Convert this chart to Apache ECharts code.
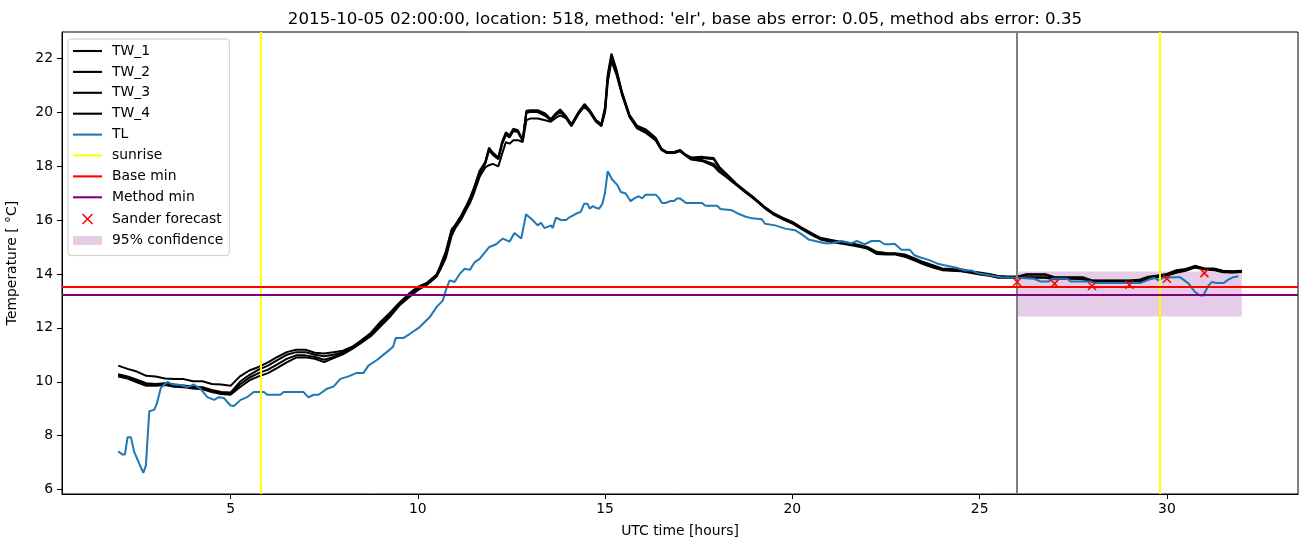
<!DOCTYPE html>
<html>
<head>
<meta charset="utf-8">
<script src="https://cdn.jsdelivr.net/npm/echarts@6/dist/echarts.min.js"></script>
<style>
html,body{margin:0;padding:0;background:#fff;}
#chart{width:1311px;height:547px;}
</style>
</head>
<body>
<div id="chart"></div>
<script>
// ---- data ----
const titleText = "2015-10-05 02:00:00, location: 518, method: 'elr', base abs error: 0.05, method abs error: 0.35";
const xTicks = [5, 10, 15, 20, 25, 30];
const yTicks = [6, 8, 10, 12, 14, 16, 18, 20, 22];

const twTime = [2,2.25,2.5,2.75,3,3.25,3.5,3.75,4,4.25,
  4.5,4.75,5,5.25,5.5,5.75,6,6.25,6.5,6.75,
  7,7.25,7.5,7.75,8,8.25,8.5,8.75,9,9.25,
  9.5,9.75,10,10.25,10.5,10.6,10.75,10.9,11,11.15,
  11.3,11.4,11.5,11.65,11.8,11.9,12,12.15,12.25,12.35,
  12.45,12.55,12.67,12.8,12.9,13,13.2,13.4,13.55,13.7,
  13.8,13.95,14.1,14.3,14.45,14.6,14.75,14.9,15,15.07,
  15.17,15.3,15.45,15.65,15.85,16.1,16.35,16.5,16.65,16.85,
  17,17.15,17.3,17.6,17.9,18.05,18.25,18.5,18.75,19,
  19.25,19.5,19.75,20,20.25,20.5,20.75,21,21.25,21.5,
  21.75,22,22.25,22.5,22.75,23,23.25,23.5,23.75,24,
  24.25,24.5,24.75,25,25.25,25.5,25.75,26,26.25,26.5,
  26.75,27,27.25,27.5,27.75,28,28.5,29,29.25,29.5,
  29.75,30,30.25,30.5,30.75,31,31.25,31.5,31.75,32];

const tw1 = [10.6,10.48,10.38,10.22,10.2,10.12,10.1,10.1,10.02,10.02,
  9.92,9.9,9.85,10.2,10.42,10.55,10.72,10.92,11.1,11.19,
  11.19,11.08,11.05,11.1,11.15,11.3,11.55,11.82,12.22,12.55,
  12.92,13.25,13.52,13.68,13.98,14.3,14.85,15.65,15.82,16.15,
  16.55,16.85,17.2,17.82,18.15,18.68,18.5,18.32,18.9,19.25,
  19.14,19.38,19.33,18.98,20.05,20.07,20.07,19.95,19.74,19.98,
  20.1,19.86,19.55,20.02,20.3,20.05,19.72,19.55,20.2,21.4,
  22.17,21.6,20.75,19.9,19.5,19.35,19.05,18.65,18.52,18.52,
  18.6,18.42,18.32,18.34,18.3,17.97,17.7,17.35,17.07,16.8,
  16.5,16.25,16.08,15.93,15.72,15.52,15.34,15.27,15.2,15.15,
  15.08,15.0,14.82,14.78,14.77,14.72,14.58,14.44,14.32,14.2,
  14.18,14.17,14.1,14.05,14.0,13.92,13.9,13.9,13.99,13.99,
  13.99,13.88,13.88,13.88,13.88,13.76,13.76,13.76,13.78,13.9,
  13.94,14.0,14.14,14.18,14.3,14.2,14.2,14.12,14.1,14.12];

const tw2 = [10.28,10.2,10.08,9.95,9.92,9.95,9.9,9.86,9.82,9.8,
  9.7,9.62,9.6,10.0,10.25,10.45,10.6,10.8,11.0,11.1,
  11.1,11.0,10.95,11.0,11.1,11.27,11.52,11.78,12.16,12.5,
  12.88,13.2,13.48,13.66,13.95,14.25,14.78,15.58,15.78,16.1,
  16.5,16.8,17.15,17.78,18.12,18.62,18.45,18.28,18.85,19.2,
  19.1,19.34,19.3,18.95,20.02,20.04,20.03,19.9,19.72,19.94,
  20.06,19.84,19.53,20.0,20.27,20.03,19.7,19.53,20.12,21.3,
  22.08,21.55,20.72,19.88,19.47,19.3,19.02,18.63,18.51,18.51,
  18.58,18.41,18.3,18.3,18.25,17.93,17.67,17.33,17.05,16.78,
  16.48,16.23,16.06,15.91,15.7,15.5,15.32,15.25,15.18,15.12,
  15.06,14.98,14.8,14.76,14.75,14.69,14.55,14.41,14.29,14.18,
  14.16,14.14,14.08,14.02,13.98,13.9,13.88,13.88,13.97,13.97,
  13.97,13.86,13.86,13.86,13.85,13.75,13.75,13.75,13.76,13.87,
  13.92,13.98,14.1,14.16,14.28,14.19,14.18,14.1,14.08,14.1];

const tw3 = [10.24,10.15,10.02,9.9,9.88,9.9,9.86,9.83,9.78,9.76,
  9.66,9.58,9.56,9.9,10.15,10.32,10.45,10.65,10.85,10.98,
  10.98,10.92,10.82,10.92,11.05,11.25,11.48,11.74,12.1,12.45,
  12.85,13.16,13.44,13.63,13.93,14.2,14.7,15.5,15.75,16.05,
  16.45,16.72,17.08,17.7,18.08,18.58,18.42,18.25,18.8,19.15,
  19.06,19.3,19.26,18.93,19.98,20.0,20.0,19.86,19.7,19.9,
  20.0,19.82,19.5,19.98,20.24,20.0,19.68,19.5,20.06,21.2,
  22.0,21.48,20.68,19.85,19.43,19.26,18.98,18.62,18.5,18.5,
  18.57,18.4,18.27,18.22,18.08,17.83,17.62,17.32,17.04,16.77,
  16.47,16.22,16.04,15.89,15.68,15.48,15.3,15.22,15.16,15.1,
  15.04,14.96,14.77,14.74,14.74,14.66,14.52,14.38,14.26,14.16,
  14.14,14.12,14.06,14.0,13.95,13.88,13.87,13.87,13.88,13.88,
  13.88,13.82,13.84,13.84,13.82,13.73,13.73,13.73,13.74,13.83,
  13.9,13.96,14.07,14.14,14.26,14.18,14.16,14.08,14.06,14.08];

const tw4 = [10.2,10.12,9.98,9.85,9.85,9.88,9.82,9.8,9.75,9.72,
  9.62,9.55,9.52,9.8,10.05,10.2,10.32,10.52,10.72,10.9,
  10.91,10.85,10.73,10.88,11.02,11.22,11.45,11.7,12.05,12.4,
  12.82,13.12,13.4,13.6,13.9,14.15,14.6,15.4,15.7,16.0,
  16.4,16.65,17.0,17.6,17.95,18.03,18.08,17.99,18.45,18.88,
  18.83,18.96,18.96,18.89,19.7,19.76,19.76,19.7,19.64,19.8,
  19.88,19.78,19.48,19.95,20.2,19.98,19.65,19.48,20.0,21.1,
  21.9,21.4,20.65,19.82,19.4,19.22,18.95,18.6,18.48,18.48,
  18.55,18.38,18.24,18.18,18.0,17.78,17.58,17.3,17.02,16.75,
  16.45,16.2,16.02,15.87,15.66,15.46,15.28,15.2,15.14,15.08,
  15.02,14.94,14.74,14.72,14.72,14.64,14.5,14.36,14.24,14.14,
  14.12,14.1,14.04,13.98,13.93,13.86,13.86,13.86,13.86,13.86,
  13.86,13.8,13.82,13.82,13.8,13.72,13.72,13.72,13.72,13.8,
  13.88,13.94,14.04,14.12,14.24,14.16,14.14,14.06,14.05,14.07];

const tlTime = [2.0,2.12,2.18,2.25,2.34,2.43,2.67,2.74,2.83,2.96,
  3.03,3.14,3.32,3.45,3.67,3.85,4.02,4.2,4.38,4.56,
  4.69,4.82,5.0,5.09,5.27,5.44,5.62,5.89,5.98,6.33,
  6.42,6.95,7.08,7.22,7.35,7.57,7.75,7.93,8.15,8.37,
  8.55,8.68,8.9,9.17,9.34,9.41,9.61,9.79,10.05,10.32,
  10.5,10.67,10.76,10.85,10.98,11.12,11.25,11.39,11.52,11.65,
  11.91,12.09,12.27,12.45,12.58,12.76,12.89,13.07,13.2,13.29,
  13.38,13.56,13.6,13.69,13.82,13.96,14.04,14.22,14.35,14.44,
  14.53,14.59,14.68,14.75,14.84,14.93,15.0,15.07,15.19,15.33,
  15.42,15.55,15.68,15.78,15.9,15.99,16.08,16.35,16.43,16.52,
  16.61,16.74,16.84,16.92,17.0,17.16,17.59,17.68,17.99,18.08,
  18.39,18.56,18.74,18.92,19.18,19.27,19.54,19.81,20.07,20.25,
  20.43,20.87,21.05,21.31,21.58,21.72,21.93,22.11,22.33,22.46,
  22.6,22.73,22.91,23.13,23.26,23.44,23.62,23.88,24.06,24.41,
  24.59,24.77,24.95,25.3,25.57,26.01,26.45,26.63,26.85,26.94,
  27.34,27.43,27.96,28.05,29.29,29.47,29.65,29.78,29.91,30.18,
  30.35,30.58,30.75,30.89,30.97,31.11,31.2,31.33,31.51,31.64,
  31.77,31.91];

const tlTemp = [7.42,7.3,7.3,7.94,7.94,7.39,6.62,6.89,8.91,8.96,
  9.18,9.78,10.0,9.9,9.88,9.8,9.9,9.74,9.43,9.33,
  9.43,9.4,9.12,9.1,9.33,9.43,9.62,9.62,9.52,9.52,
  9.62,9.62,9.42,9.52,9.52,9.74,9.82,10.11,10.2,10.33,
  10.33,10.6,10.8,11.1,11.3,11.62,11.62,11.78,12.03,12.4,
  12.77,13.02,13.45,13.76,13.7,14.0,14.19,14.15,14.44,14.56,
  15.0,15.1,15.31,15.2,15.52,15.31,16.21,15.99,15.8,15.9,
  15.7,15.8,15.7,16.09,16.0,16.0,16.09,16.23,16.3,16.6,
  16.6,16.42,16.52,16.45,16.42,16.6,17.04,17.81,17.5,17.29,
  17.04,16.98,16.7,16.8,16.88,16.8,16.94,16.94,16.83,16.63,
  16.63,16.7,16.7,16.8,16.8,16.63,16.63,16.53,16.53,16.41,
  16.36,16.23,16.13,16.06,16.03,15.86,15.8,15.68,15.62,15.47,
  15.28,15.14,15.14,15.22,15.14,15.22,15.1,15.22,15.22,15.1,
  15.1,15.12,14.9,14.9,14.69,14.6,14.53,14.38,14.32,14.22,
  14.13,14.13,14.03,13.94,13.88,13.86,13.82,13.72,13.72,13.82,
  13.82,13.72,13.72,13.66,13.66,13.76,13.86,13.76,13.86,13.88,
  13.88,13.64,13.33,13.2,13.2,13.57,13.7,13.66,13.66,13.79,
  13.88,13.91];

const sunriseHours = [5.8, 29.8];
const forecastStart = 26;
const baseMin = 13.54;
const methodMin = 13.24;
const sanderTime = [26, 27, 28, 29, 30, 31];
const sanderTemp = [13.70, 13.64, 13.55, 13.60, 13.82, 14.03];
const bandStart = 26, bandEnd = 32;
const bandLow = 12.42, bandHigh = 14.09;

// ---- build ----
const zip = (xs, ys) => xs.map((x, i) => [x, ys[i]]);
const FONT = 'DejaVu Sans';
const FS = 13.9;
const xPath = 'path://M0,0L10,10M10,0L0,10';
const xLegendPath = 'path://M-2,-2M12,12M0,0L10,10M10,0L0,10';
const lineIcon = 'path://M0,0H29V2.1H0Z';
const LW = 2;

function lineSeries(name, xs, ys, color, z) {
  return {
    name, type: 'line', data: zip(xs, ys), symbol: 'none', showSymbol: false,
    lineStyle: { color, width: LW }, itemStyle: { color }, z: z || 2,
    animation: false, silent: true
  };
}
function refLine(name, color, lines, z) {
  return {
    name, type: 'line', data: [], symbol: 'none', z: z,
    itemStyle: { color }, lineStyle: { color, width: LW },
    markLine: {
      silent: true, symbol: 'none', label: { show: false }, animation: false,
      lineStyle: { color, type: 'solid', width: LW },
      data: lines
    }
  };
}

const chart = echarts.init(document.getElementById('chart'), null, { renderer: 'canvas' });
const option = {
  animation: false,
  backgroundColor: '#ffffff',
  textStyle: { fontFamily: FONT },
  title: {
    text: titleText, left: 680, top: 6, textAlign: 'center',
    textStyle: { fontFamily: FONT, fontSize: 16.67, fontWeight: 'normal', color: '#000' }
  },
  grid: { left: 62, right: 13, top: 32, bottom: 53, show: true, borderColor: '#000', borderWidth: 1,
          backgroundColor: 'transparent', containLabel: false, outerBoundsMode: 'none' },
  xAxis: {
    type: 'value', min: 0.5, max: 33.5,
    name: 'UTC time [hours]', nameLocation: 'middle', nameGap: 30,
    nameTextStyle: { fontFamily: FONT, fontSize: FS, color: '#000' },
    axisLine: { show: true, onZero: false, lineStyle: { color: '#000', width: 1 } },
    axisTick: { show: true, length: 5, customValues: xTicks, lineStyle: { color: '#000' } },
    axisLabel: { customValues: xTicks, margin: 8, fontFamily: FONT, fontSize: FS, color: '#000' },
    splitLine: { show: false }
  },
  yAxis: {
    type: 'value', min: 5.84, max: 22.97,
    name: 'Temperature [ \u00B0C]', nameLocation: 'middle', nameGap: 43, nameRotate: 90,
    nameTextStyle: { fontFamily: FONT, fontSize: FS, color: '#000' },
    axisLine: { show: true, onZero: false, lineStyle: { color: '#000', width: 1 } },
    axisTick: { show: true, length: 5, customValues: yTicks, lineStyle: { color: '#000' } },
    axisLabel: { customValues: yTicks, margin: 9, fontFamily: FONT, fontSize: FS, color: '#000' },
    splitLine: { show: false }
  },
  legend: {
    orient: 'vertical', left: 68, top: 39,
    backgroundColor: 'rgba(255,255,255,0.8)', borderColor: '#cccccc', borderWidth: 1, borderRadius: 3,
    padding: [5, 6, 8, 5],
    itemWidth: 29, itemHeight: 14, itemGap: 6.9,
    textStyle: { fontFamily: FONT, fontSize: FS, color: '#000', padding: [0, 0, 0, 5] },
    selectedMode: false,
    data: [
      { name: 'TW_1', icon: lineIcon }, { name: 'TW_2', icon: lineIcon },
      { name: 'TW_3', icon: lineIcon }, { name: 'TW_4', icon: lineIcon },
      { name: 'TL', icon: lineIcon }, { name: 'sunrise', icon: lineIcon },
      { name: 'Base min', icon: lineIcon }, { name: 'Method min', icon: lineIcon },
      { name: 'Sander forecast', icon: xLegendPath, itemStyle: { color: 'red', borderColor: 'red', borderWidth: 1.5 } },
      { name: '95% confidence', icon: 'path://M0,0H29V9H0Z', itemStyle: { color: 'rgba(128,0,128,0.2)', borderWidth: 0 } }
    ]
  },
  series: [
    {
      name: '95% confidence', type: 'line', data: [], symbol: 'none', z: 1,
      itemStyle: { color: 'rgba(128,0,128,0.2)' }, lineStyle: { color: 'rgba(128,0,128,0.2)' },
      markArea: {
        silent: true, itemStyle: { color: 'rgba(128,0,128,0.2)' }, label: { show: false },
        data: [[{ xAxis: bandStart, yAxis: bandLow }, { xAxis: bandEnd, yAxis: bandHigh }]]
      }
    },
    lineSeries('TW_1', twTime, tw1, '#000000', 3),
    lineSeries('TW_2', twTime, tw2, '#000000', 3),
    lineSeries('TW_3', twTime, tw3, '#000000', 3),
    lineSeries('TW_4', twTime, tw4, '#000000', 3),
    lineSeries('TL', tlTime, tlTemp, '#1f77b4', 4),
    refLine('sunrise', '#ffff00', sunriseHours.map(h => ({ xAxis: h })), 5),
    refLine('forecast start', '#808080', [{ xAxis: forecastStart }], 5),
    refLine('Base min', '#ff0000', [{ yAxis: baseMin }], 5),
    refLine('Method min', '#800080', [{ yAxis: methodMin }], 5),
    {
      name: 'Sander forecast', type: 'scatter', data: zip(sanderTime, sanderTemp),
      symbol: xPath, symbolSize: 8, z: 6, silent: true,
      itemStyle: { color: 'red', borderColor: 'red', borderWidth: 1.5, opacity: 1 }
    }
  ]
};
chart.setOption(option);
</script>
</body>
</html>
